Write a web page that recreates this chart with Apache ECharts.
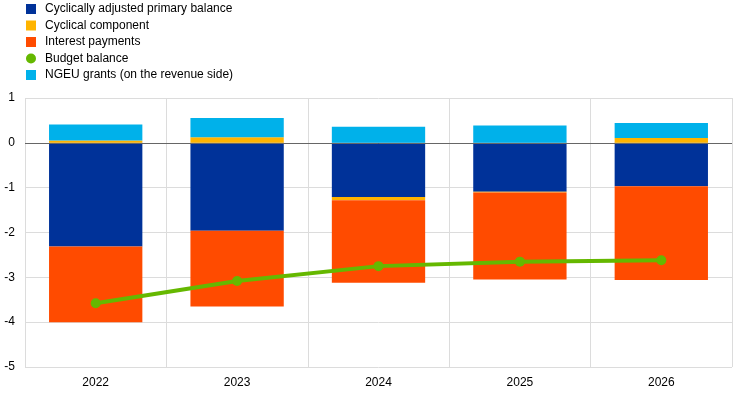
<!DOCTYPE html>
<html><head><meta charset="utf-8">
<script src="https://cdn.jsdelivr.net/npm/echarts@6/dist/echarts.min.js"></script>
<style>html,body{margin:0;padding:0;background:#fff}#c{width:744px;height:395px}</style>
</head><body><div id="c"></div>
<script>
const categories = ['2022','2023','2024','2025','2026'];
const cyclicallyAdjusted = [-2.31, -1.96, -1.21, -1.09, -0.97];
const cyclicalComponent = [0.05, 0.125, -0.07, -0.02, 0.11];
const interestPayments = [-1.69, -1.69, -1.84, -1.94, -2.09];
const ngeuGrants = [0.36, 0.43, 0.36, 0.385, 0.335];
const budgetBalance = [-3.58, -3.08, -2.75, -2.65, -2.62];
const yTicks = {min: -5, max: 1, interval: 1};

const font = 'Arial, "Liberation Sans", sans-serif';
const chart = echarts.init(document.getElementById('c'), null, {renderer: 'canvas'});
const barCommon = {type: 'bar', stack: 'total', barWidth: '66%', itemStyle: {borderWidth: 0}};
chart.setOption({
  animation: false,
  textStyle: {fontFamily: font},
  legend: {
    orient: 'vertical', left: 26, top: 3, padding: 0, itemWidth: 10, itemHeight: 10, itemGap: 4.5,
    textStyle: {fontSize: 12, color: '#000', fontFamily: font, padding: [0, 0, 0, 4]},
    data: [
      {name: 'Cyclically adjusted primary balance', icon: 'rect'},
      {name: 'Cyclical component', icon: 'rect'},
      {name: 'Interest payments', icon: 'rect'},
      {name: 'Budget balance', icon: 'circle'},
      {name: 'NGEU grants (on the revenue side)', icon: 'rect'}
    ]
  },
  grid: {left: 25, right: 12, top: 98, bottom: 28},
  xAxis: {
    type: 'category', data: categories,
    axisLine: {show: false, onZero: false}, axisTick: {show: false},
    axisLabel: {color: '#000', fontSize: 12, margin: 10},
    splitLine: {show: true, lineStyle: {color: '#dcdcdc', width: 1}}
  },
  yAxis: {
    type: 'value', min: yTicks.min, max: yTicks.max, interval: yTicks.interval,
    axisLine: {show: false}, axisTick: {show: false},
    axisLabel: {color: '#000', fontSize: 12, margin: 10},
    splitLine: {lineStyle: {color: '#dcdcdc', width: 1}}
  },
  series: [
    Object.assign({}, barCommon, {name: 'Cyclically adjusted primary balance', data: cyclicallyAdjusted, itemStyle: {color: '#003299'},
      markLine: {silent: true, symbol: 'none', label: {show: false}, lineStyle: {color: '#666', type: 'solid', width: 1}, data: [{yAxis: 0}]}}),
    Object.assign({}, barCommon, {name: 'Cyclical component', data: cyclicalComponent, itemStyle: {color: '#ffb400'}}),
    Object.assign({}, barCommon, {name: 'Interest payments', data: interestPayments, itemStyle: {color: '#ff4b00'}}),
    Object.assign({}, barCommon, {name: 'NGEU grants (on the revenue side)', data: ngeuGrants, itemStyle: {color: '#00b1ea'}}),
    {name: 'Budget balance', type: 'line', data: budgetBalance, symbol: 'circle', symbolSize: 10,
     itemStyle: {color: '#65b800'}, lineStyle: {color: '#65b800', width: 4}, z: 5}
  ]
});
</script></body></html>
